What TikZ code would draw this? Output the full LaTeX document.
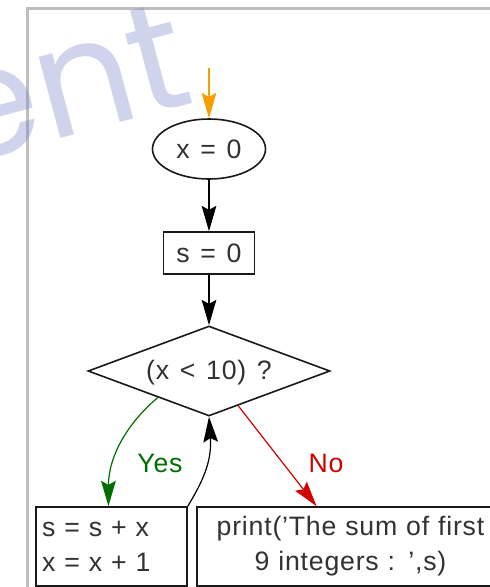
\documentclass[tikz,border=0pt]{standalone}
\usepackage{fontspec}
\setmainfont{Liberation Sans}[LetterSpace=3,WordSpace=1.3]
\newfontfamily\wmfont{Poppins}
\newfontfamily\widefont{Liberation Sans}[LetterSpace=6,WordSpace=1.5]
\usetikzlibrary{shapes.geometric,arrows.meta,calc}
\definecolor{frameg}{RGB}{190,190,190}
\definecolor{wmblue}{RGB}{120,130,200}
\definecolor{arrorange}{RGB}{245,160,0}
\definecolor{yesgreen}{RGB}{0,110,0}
\definecolor{nored}{RGB}{210,0,0}
\definecolor{txt}{RGB}{50,50,50}
\tikzset{
  shapeline/.style={draw=black!90, line width=1.2pt, inner sep=0pt, text=txt},
  boxnode/.style={shapeline, rectangle},
  arr/.style={line width=0.9pt, -{Stealth[length=19pt,width=11pt,inset=3pt]}},
  lbl/.style={font=\fontsize{20pt}{24pt}\selectfont, inner sep=0pt},
}
\begin{document}
\begin{tikzpicture}[x=0.75pt,y=-0.75pt, font=\fontsize{20pt}{26.25pt}\selectfont]
\useasboundingbox (0,0) rectangle (490,587);
\clip (0,0) rectangle (490,587);
\fill[white] (0,0) rectangle (490,587);
% frame
\draw[frameg, line width=2.25pt] (27,590) -- (27,8) -- (495,8);
% nodes
\node[shapeline, ellipse, minimum width=84.75pt, minimum height=45pt] (ell) at (209,149) {x = 0};
\node[boxnode, minimum width=68.25pt, minimum height=31.5pt] (s0) at (209,253) {s = 0};
\node[shapeline, diamond, minimum width=181.5pt, minimum height=67.5pt, inner sep=0pt] (d) at (209,371) {};
\node[inner sep=0pt, text=txt] (dtext) at (209,373) {(x < 10) ?};
\node[boxnode, minimum width=113.25pt, minimum height=59.25pt, text width=104pt, align=left, font=\widefont\fontsize{20pt}{26.25pt}\selectfont] (lb) at (111.5,546.5) {s = s + x\\x = x + 1};
\node[boxnode, minimum width=230.25pt, minimum height=59.25pt, text width=225pt, align=center] (rb) at (350.5,546.5) {print('The sum of first\\9 integers : ',s)};
% connectors
\coordinate (start) at (209,68);
\draw[arr, arrorange] (start) -- (ell.north);
\draw[arr] (ell.south) -- (s0.north);
\draw[arr] (s0.south) -- (d.north);
\coordinate (ys) at ($(d.west)!0.58!(d.south)$);
\coordinate (ye) at ($(lb.north west)!0.48!(lb.north east)$);
\draw[arr, yesgreen] (ys) .. controls ($(ys)+(-30,25)$) and ($(ye)+(0,-50)$) .. (ye);
\draw[arr] (lb.north east) .. controls ($(lb.north east)+(15,-25)$) and ($(d.south)+(3,45)$) .. (d.south);
\coordinate (ns) at ($(d.south)!0.24!(d.east)$);
\coordinate (ne) at ($(rb.north west)!0.39!(rb.north east)$);
\draw[arr, nored] (ns) -- (ne);
\node[lbl, text=yesgreen] (yes) at (160,463) {Yes};
\node[lbl, text=nored] (no) at (326,463) {No};
% watermark
\node[anchor=base east, rotate=15, text=wmblue, text opacity=0.35, inner sep=0pt, font=\wmfont\fontsize{115pt}{120pt}\selectfont] (wm) at (198,102) {ment};
\end{tikzpicture}
\end{document}
